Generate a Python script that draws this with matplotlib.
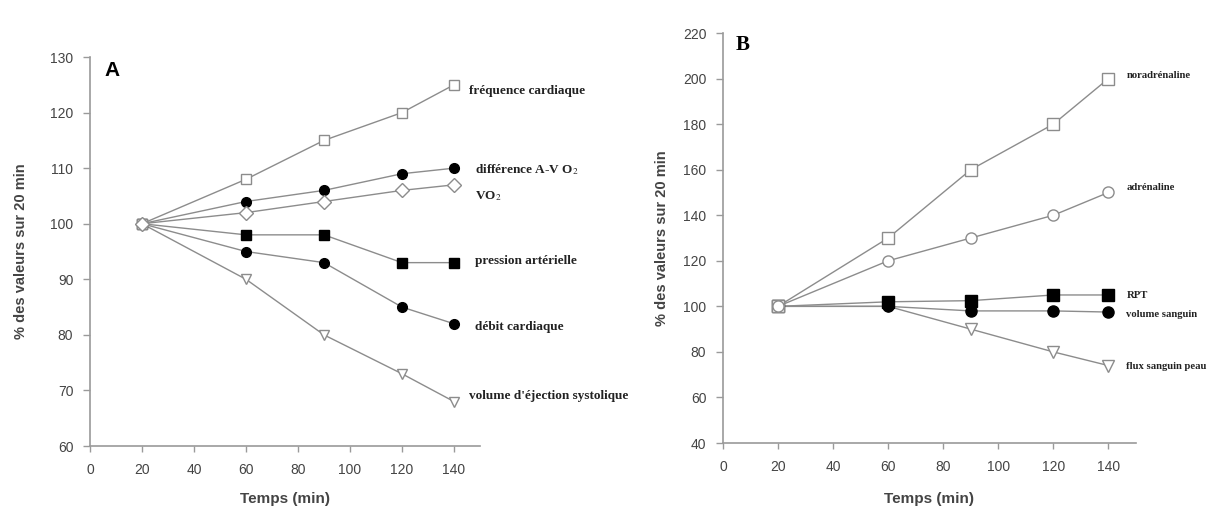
import matplotlib
matplotlib.use('Agg')
import matplotlib.pyplot as plt

plt.rcParams['font.family'] = 'Liberation Sans'
plt.rcParams['mathtext.fontset'] = 'stix'

temps = [20, 60, 90, 120, 140]

# A - réponses cardiovasculaires
frequence = [100, 108, 115, 120, 125]
difference_avo2 = [100, 104, 106, 109, 110]
vo2 = [100, 102, 104, 106, 107]
pression = [100, 98, 98, 93, 93]
debit = [100, 95, 93, 85, 82]
volume_ejection = [100, 90, 80, 73, 68]

# B - hormones, résistance, volume, flux
noradrenaline = [100, 130, 160, 180, 200]
adrenaline = [100, 120, 130, 140, 150]
rpt = [100, 102, 102.5, 105, 105]
volume_sanguin = [100, 100, 98, 98, 97.5]
flux_peau = [100, 100, 90, 80, 74]

xticks = [0, 20, 40, 60, 80, 100, 120, 140]
yticks_a = [60, 70, 80, 90, 100, 110, 120, 130]
yticks_b = [40, 60, 80, 100, 120, 140, 160, 180, 200, 220]

line_col = '#8c8c8c'
axis_col = '#9a9a9a'
text_col = '#444444'

# (valeurs, marqueur, rempli, étiquette, décalage x px, décalage y px)
# ordre = ordre de tracé (le dernier au-dessus)
series_a = [
    (volume_ejection, 'v', False, "volume d'éjection systolique", 15, 6),
    (pression, 's', True, 'pression artérielle', 21, 2),
    (debit, 'o', True, 'débit cardiaque', 21, -3),
    (difference_avo2, 'o', True, 'différence A-V O$_{2}$', 21, -1),
    (frequence, 's', False, 'fréquence cardiaque', 15, -6),
    (vo2, 'D', False, 'VO$_{2}$', 21, -11),
]
series_b = [
    (flux_peau, 'v', False, 'flux sanguin peau', 18, -1),
    (volume_sanguin, 'o', True, 'volume sanguin', 18, -2),
    (rpt, 's', True, 'RPT', 18, -1),
    (noradrenaline, 's', False, 'noradrénaline', 18, 3),
    (adrenaline, 'o', False, 'adrénaline', 18, 5),
]

fig = plt.figure(figsize=(12.13, 5.17), dpi=100)
ax_a = fig.add_axes([0.0742, 0.1373, 0.3215, 0.7524])
ax_b = fig.add_axes([0.596, 0.1431, 0.3405, 0.793])


def draw(ax, series, ylim, yticks, msize, fsize, xlabelpad, ylabelpad):
    for i, (vals, mk, filled, lab, dx, dy) in enumerate(series):
        ax.plot(temps, vals, color=line_col, lw=1.0, marker=mk,
                markersize=msize,
                markerfacecolor='black' if filled else 'white',
                markeredgecolor='black' if filled else line_col,
                markeredgewidth=1.0, zorder=3 + i)
        ax.annotate(lab, xy=(temps[-1], vals[-1]), xytext=(dx * 0.72, dy * 0.72),
                    textcoords='offset points', ha='left', va='center',
                    fontsize=fsize, fontweight='bold', family='Liberation Serif',
                    color='#222222', annotation_clip=False)
    ax.set_xlim(0, 150)
    ax.set_ylim(*ylim)
    ax.set_xticks(xticks)
    ax.set_yticks(yticks)
    for s in ['top', 'right']:
        ax.spines[s].set_visible(False)
    for s in ['left', 'bottom']:
        ax.spines[s].set_color(axis_col)
        ax.spines[s].set_linewidth(1.2)
    ax.tick_params(colors=axis_col, labelcolor=text_col, labelsize=10,
                   width=1.0, direction='out')
    ax.tick_params(axis='x', length=4, pad=8)
    ax.tick_params(axis='y', length=5, pad=7)
    ax.set_xlabel('Temps (min)', fontsize=11, fontweight='bold', color=text_col,
                  labelpad=xlabelpad)
    ax.set_ylabel('% des valeurs sur 20 min', fontsize=10.5, fontweight='bold',
                  color=text_col, labelpad=ylabelpad)


draw(ax_a, series_a, (60, 130), yticks_a, 7, 9.5, 11, 16)
draw(ax_b, series_b, (40, 220), yticks_b, 8, 7.7, 13, 10)

ax_a.text(0.038, 0.99, 'A', transform=ax_a.transAxes, ha='left', va='top',
          fontsize=15, fontweight='bold', color='black')
ax_b.text(0.03, 0.995, 'B', transform=ax_b.transAxes, ha='left', va='top',
          fontsize=15, fontweight='bold', family='Liberation Serif', color='black')

fig.savefig('out.png', dpi=100)
